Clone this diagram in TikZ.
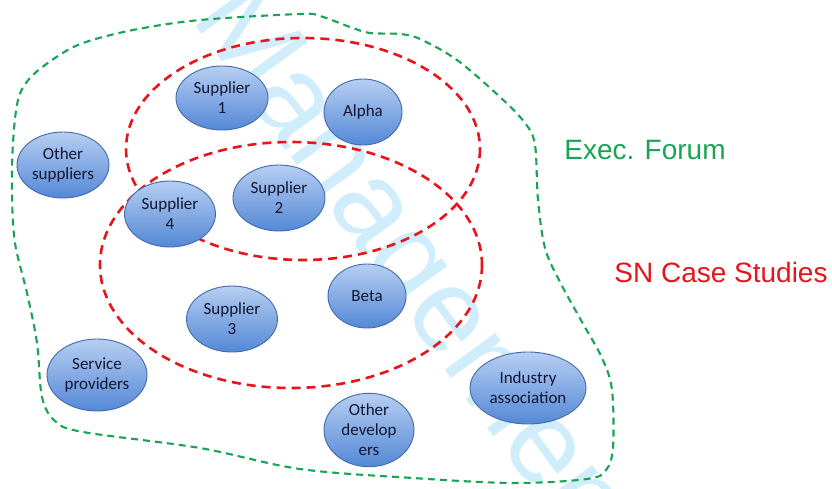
\documentclass[tikz,border=0pt]{standalone}
\usepackage{fontspec}
\setmainfont{Carlito}
\newfontfamily\arialf{Liberation Sans}
\usetikzlibrary{shapes.geometric}
\definecolor{bubtop}{RGB}{182,206,242}
\definecolor{bubbot}{RGB}{84,136,214}
\definecolor{bubedge}{RGB}{66,106,170}
\definecolor{bubtext}{RGB}{18,22,48}
\definecolor{forumgreen}{RGB}{24,164,84}
\definecolor{casered}{RGB}{232,20,28}
\definecolor{wmblue}{RGB}{208,237,251}
\begin{document}
\begin{tikzpicture}[x=1pt,y=-1pt,
  bub/.style={ellipse, draw=bubedge, line width=0.9pt, top color=bubtop, bottom color=bubbot,
    align=center, inner sep=0pt, text=bubtext, font=\fontsize{17}{20}\selectfont},
  reddash/.style={draw=casered, line width=2.6pt, dash pattern=on 9pt off 6pt},
  greendash/.style={draw=forumgreen, line width=2.1pt, dash pattern=on 7pt off 5pt},
  wm/.style={text=wmblue, font=\arialf\fontsize{118}{118}\selectfont, inner sep=0pt},
  lbl/.style={font=\arialf\fontsize{28}{28}\selectfont, inner sep=0pt}]
\useasboundingbox (0,0) rectangle (832,488);
\fill[white] (0,0) rectangle (832,488);
\begin{scope}
  \clip (0,0) rectangle (832,488);
  \node[wm, rotate=-54, anchor=base west] (wmark) at (190,18) {Management};
\end{scope}
% outer green blob
\draw[greendash] plot[smooth cycle, tension=0.55] coordinates {
  (42,397) (37,343) (27,293) (15,243) (12,193) (13,143) (18,100) (30,78) (55,58)
  (83,43) (133,30) (200,20) (300,14) (320,16) (350,27) (370,33) (400,34) (420,39)
  (457,60) (500,97) (525,123) (535,145) (538,200) (545,248) (560,282) (582,322)
  (602,358) (612,390) (613,447) (606,470) (587,479) (513,483) (413,478) (300,469)
  (200,448) (83,432) (55,421)};
% red ellipses
\draw[reddash] (303,149) ellipse [x radius=177, y radius=111];
\draw[reddash] (291,265) ellipse [x radius=191, y radius=123];
% bubbles
\node[bub, minimum width=92pt, minimum height=64pt] (s1) at (222,98) {Supplier\\1};
\node[bub, minimum width=78pt, minimum height=66pt] (alpha) at (363,112) {Alpha};
\node[bub, minimum width=92pt, minimum height=66pt] (os) at (63,165) {Other\\suppliers};
\node[bub, minimum width=92pt, minimum height=66pt] (s2) at (279,198) {Supplier\\2};
\node[bub, minimum width=91pt, minimum height=66pt] (s4) at (170,214) {Supplier\\4};
\node[bub, minimum width=78pt, minimum height=64pt] (beta) at (367,296) {Beta};
\node[bub, minimum width=91pt, minimum height=66pt] (s3) at (232,319) {Supplier\\3};
\node[bub, minimum width=100pt, minimum height=72pt] (sp) at (97,375) {Service\\providers};
\node[bub, minimum width=90pt, minimum height=68pt] (od) at (369,430) {Other\\develop\\ers};
\node[bub, minimum width=116pt, minimum height=72pt] (ia) at (528,388) {Industry\\association};
% labels
\node[lbl, text=forumgreen] (ef) at (645,150) {Exec. Forum};
\node[lbl, text=casered] (sn) at (721,272) {SN Case Studies};
\end{tikzpicture}
\end{document}
